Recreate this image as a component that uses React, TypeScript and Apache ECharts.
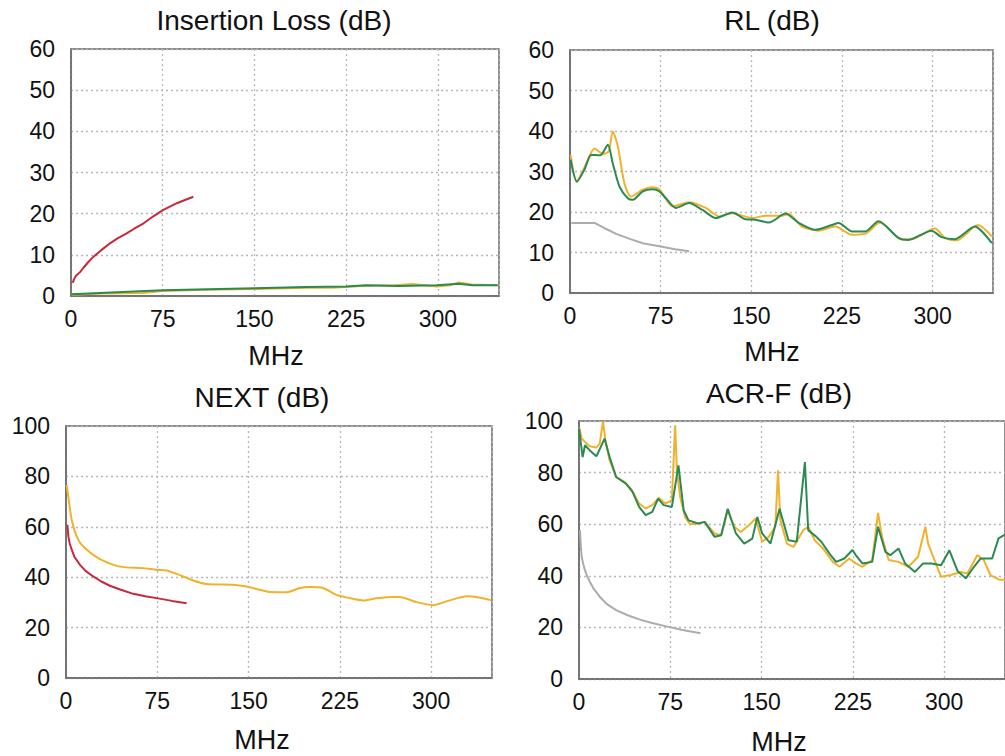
import React, { useEffect, useRef } from "react";
import * as echarts from "echarts";

// ---- titles ----
const panelTitles = ["Insertion Loss (dB)", "RL (dB)", "NEXT (dB)", "ACR-F (dB)"];
const xAxisName = "MHz";

// ---- Insertion Loss ----
const ilLimit: number[][] = [
  [1.4, 3.2], [2.5, 4.1], [4, 4.9], [7.4, 5.8], [10, 6.8], [14, 8.2], [18.2, 9.5], [25, 11.2],
  [31.9, 12.8], [38, 14.0], [45.5, 15.2], [52, 16.4], [59.1, 17.6], [67, 19.3], [75.5, 20.9],
  [87, 22.6], [100, 24.1],
];
const ilYellow: number[][] = [
  [0.5, 0.3], [25, 0.6], [59, 0.7], [75, 1.2], [110, 1.5], [150, 1.7], [195, 2.0], [214, 2.0],
  [241, 2.5], [265, 2.6], [279, 2.9], [299, 2.3], [310, 2.6], [317, 3.3], [328, 2.8], [349, 2.6],
];
const ilGreen: number[][] = [
  [0.5, 0.4], [23.6, 0.7], [75, 1.4], [150, 1.9], [192, 2.2], [225, 2.3], [241, 2.6],
  [268, 2.4], [299, 2.6], [317, 3.0], [328, 2.6], [349, 2.6],
];

// ---- Return Loss ----
const rlLimit: number[][] = [
  [1.1, 17.3], [20.3, 17.3], [25, 16.6], [30, 15.8], [38.2, 14.6], [50, 13.3], [60.2, 12.3],
  [75, 11.5], [87, 10.8], [98.6, 10.3],
];
const rlYellow: number[][] = [
  [0.5, 34.1], [5.5, 27.5], [12, 31], [20.3, 35.7], [27.2, 34.3], [32, 35], [35.4, 39.9],
  [39.6, 36.2], [45, 27.1], [50.5, 23.8], [60.2, 25.5], [67, 26.1], [73.9, 25.6], [84.9, 21.4],
  [98.6, 22.4], [112.4, 21], [123.4, 18.9], [134.3, 19.7], [150.8, 18.5], [161.8, 19.1],
  [175.5, 19.1], [181, 19.5], [192, 16.4], [205.8, 15.4], [219.5, 16.4], [233.2, 14.4],
  [244.2, 14.6], [256.6, 17.4], [274.5, 13.3], [282.7, 13.3], [301.9, 15.9], [310.2, 13.6],
  [319.8, 13], [337.6, 16.8], [349, 14],
];
const rlGreen: number[][] = [
  [0.5, 32.9], [5.8, 27.5], [12, 30.5], [17.6, 34.1], [25, 34], [31.3, 36.6], [35.4, 32],
  [40.9, 26.3], [47.8, 23.4], [51.9, 23.0], [60.2, 25.1], [68.4, 25.6], [73.9, 25.1],
  [79.4, 23.4], [87.6, 21.0], [98.6, 22.2], [109.6, 20.5], [120.6, 18.5], [134.3, 19.9],
  [145.3, 18.2], [153.6, 18.1], [164.6, 17.4], [178.3, 19.6], [189.3, 17.3], [203, 15.6],
  [216.8, 16.8], [222.3, 17.3], [233.2, 15.2], [244.2, 15.2], [255.2, 17.7], [271.7, 13.6],
  [279.9, 13.1], [299.2, 15.4], [307.4, 13.8], [318.4, 13.3], [334.9, 16.4], [349, 12.3],
];

// ---- NEXT ----
const nextLimit: number[][] = [
  [1.1, 60.8], [2, 56], [3, 53.5], [4.7, 50.9], [7, 48], [11.5, 44.9], [16, 42.5], [22.4, 40.3],
  [29, 38.3], [36.1, 36.6], [45, 35], [55.3, 33.4], [65, 32.4], [74.5, 31.7], [87, 30.6],
  [99.1, 29.7],
];
const nextYellow: number[][] = [
  [0.5, 76.6], [1.9, 72], [4.7, 62.7], [10.1, 54.8], [17, 50.9], [27.9, 47.2], [41.6, 44.5],
  [49.8, 43.9], [63.5, 43.6], [74.5, 42.9], [82.7, 42.7], [90.9, 41.3], [104.6, 38.7],
  [115.5, 37.3], [137.4, 37], [148.4, 36.3], [159.3, 35], [167.5, 34.1], [181.2, 34],
  [192.2, 35.7], [200.4, 36.1], [211.3, 35.7], [222.3, 33], [233.2, 31.7], [244.2, 30.8],
  [255.1, 31.6], [268.8, 32.1], [274.3, 32.1], [288, 30.1], [301.7, 28.9], [312.6, 30.4],
  [329.1, 32.4], [337.3, 32.1], [349.6, 30.8],
];

// ---- ACR-F ----
const acrfLimit: number[][] = [
  [0.8, 57.7], [1.5, 51.5], [2.2, 47.4], [3.5, 44.5], [4.9, 42.2], [6.5, 40], [8.9, 37.7],
  [12, 35], [17, 31.9], [23, 29], [30.5, 26.7], [40, 24.7], [49.4, 23.1], [60, 21.7],
  [71, 20.5], [85, 19], [99.8, 17.7],
];
const acrfYellow: number[][] = [
  [0.3, 97.4], [2.2, 93.2], [4.9, 91.9], [8.9, 90.2], [14.3, 89.7], [17, 91.2], [19.7, 99.8],
  [21.9, 91.9], [25.1, 84.8], [30.5, 78.3], [37.2, 76.4], [42.6, 73.8], [49.4, 68],
  [54.8, 66.1], [60.2, 67.4], [65.6, 70.3], [71, 68], [76.3, 69.3], [79, 98.3], [80.4, 80.9],
  [83.1, 70.6], [87.1, 62.8], [91.2, 60], [97.9, 60.3], [103.3, 60.9], [111.4, 56.4],
  [116.8, 55.7], [122.2, 65.4], [127.6, 59], [133, 57], [141.1, 60.3], [145.1, 62.2],
  [150.5, 53.2], [155.9, 55.1], [161.3, 59], [163.5, 80.9], [165.4, 61.5], [170.8, 52.5],
  [176.2, 51.2], [184.2, 57.7], [188.3, 59], [193.7, 53.8], [200.4, 50.6], [208.5, 45.4],
  [213.9, 43.5], [222, 46.7], [227.4, 44.8], [232.8, 43.5], [240.9, 46.1], [245.7, 64.4],
  [249, 55.1], [254.4, 46.1], [262.5, 45.4], [270.6, 43.5], [278.6, 47.4], [284.6, 59],
  [286.8, 52.5], [292.1, 46.1], [297.5, 39.6], [305.6, 40.3], [313.7, 41.5], [319.1, 40.9],
  [327.2, 48], [332.6, 46.1], [338, 40.3], [344.7, 38.6], [350, 38.4],
];
const acrfGreen: number[][] = [
  [0, 97], [3, 86], [4.9, 90.6], [8.9, 88.6], [14.3, 86.3], [21, 93.2], [25.1, 86.1],
  [30.5, 78.3], [38.6, 75.7], [44, 72.5], [49.4, 66.7], [54.8, 63.5], [60.2, 64.8],
  [65, 69.9], [69.6, 67.4], [76.3, 66.7], [81.7, 82.8], [86, 65.4], [90, 61.5], [97.9, 60.3],
  [103.3, 60.9], [111.4, 55.1], [116.8, 55.7], [122.2, 66], [128.9, 56.4], [135.7, 52.5],
  [142.4, 54.4], [146.5, 62.8], [150.5, 56.4], [157.3, 52.5], [164.8, 66], [172.1, 53.8],
  [178.9, 53.2], [185.6, 84.1], [188.3, 57.7], [195, 55.1], [199.1, 53.2], [205.8, 48.6],
  [211.2, 45.4], [218, 46.7], [224.7, 50], [227.4, 48], [232.8, 44.8], [240.9, 45.4],
  [245.7, 59], [251.7, 49.3], [255.7, 48], [262.5, 50.6], [267.9, 44.8], [276, 41.5],
  [282.7, 44.8], [289.5, 44.8], [297.5, 44.1], [304.3, 49.9], [311, 41.9], [317.8, 39],
  [324.5, 43.5], [329.9, 46.7], [339.4, 46.7], [344.7, 54.5], [350, 56],
];

const RED = "#c8283a";
const YELLOW = "#f0b22c";
const GREEN = "#2b8a52";
const GREY = "#acacac";
const FONT = "'Liberation Sans', Arial, sans-serif";

const grids = [
  { left: 71, top: 49, width: 428, height: 247 },
  { left: 570, top: 50, width: 423, height: 243 },
  { left: 66, top: 426, width: 426, height: 252 },
  { left: 579, top: 421, width: 434, height: 258 },
];
const yMax = [60, 60, 100, 100];
const yStep = [10, 10, 20, 20];
const titlePos = [
  [274, 20], [772, 20], [262, 397], [779, 393],
];
const namePos = [
  [276, 356], [772, 352], [262, 740], [779, 742],
];

export default function App() {
  const ref = useRef<HTMLDivElement>(null);
  useEffect(() => {
    if (!ref.current) return;
    const chart = echarts.init(ref.current, undefined, { renderer: "svg" });
    const dotted = { color: "#b8b8b8", width: 1.3, type: [2, 3] as any };
    const xAxis = grids.map((_, i) => ({
      type: "value",
      gridIndex: i,
      min: 0,
      max: 350,
      interval: 75,
      axisLine: { show: true, lineStyle: { color: "#6a6a6a", width: 1.5 } },
      axisTick: { show: false },
      axisLabel: { color: "#111", fontSize: 23, fontFamily: FONT, margin: 11, showMaxLabel: false },
      splitLine: { show: true, lineStyle: dotted },
    }));
    const yAxis = grids.map((_, i) => ({
      type: "value",
      gridIndex: i,
      min: 0,
      max: yMax[i],
      interval: yStep[i],
      axisLine: { show: true, lineStyle: { color: "#6a6a6a", width: 1.5 } },
      axisTick: { show: false },
      axisLabel: { color: "#111", fontSize: 23, fontFamily: FONT, margin: 16 },
      splitLine: { show: true, lineStyle: dotted },
    }));
    const line = (data: number[][], color: string, gi: number, smooth: boolean | number, z = 2) => ({
      type: "line",
      xAxisIndex: gi,
      yAxisIndex: gi,
      data,
      showSymbol: false,
      symbol: "none",
      smooth,
      lineStyle: { color, width: 2 },
      z,
      silent: true,
    });
    const graphic: any[] = [];
    panelTitles.forEach((t, i) => {
      graphic.push({
        type: "text",
        x: titlePos[i][0],
        y: titlePos[i][1],
        style: { text: t, fill: "#111", font: `28px ${FONT}`, align: "center", verticalAlign: "middle" },
      });
      graphic.push({
        type: "text",
        x: namePos[i][0],
        y: namePos[i][1],
        style: { text: xAxisName, fill: "#111", font: `27px ${FONT}`, align: "center", verticalAlign: "middle" },
      });
    });
    chart.setOption({
      animation: false,
      backgroundColor: "#fff",
      grid: grids.map((g) => ({ ...g, show: true, borderColor: "#6a6a6a", borderWidth: 1.5, backgroundColor: "transparent" })),
      xAxis,
      yAxis,
      series: [
        line(ilYellow, YELLOW, 0, false),
        line(ilGreen, GREEN, 0, false),
        line(ilLimit, RED, 0, false),
        line(rlLimit, GREY, 1, false),
        line(rlYellow, YELLOW, 1, 0.25),
        line(rlGreen, GREEN, 1, 0.25),
        line(nextLimit, RED, 2, false),
        line(nextYellow, YELLOW, 2, 0.2),
        line(acrfLimit, GREY, 3, false),
        line(acrfYellow, YELLOW, 3, false),
        line(acrfGreen, GREEN, 3, false),
      ],
      graphic,
    });
    return () => chart.dispose();
  }, []);
  return (
    <div
      ref={ref}
      style={{ position: "absolute", left: 0, top: 0, width: 1005, height: 756, overflow: "hidden", background: "#fff" }}
    />
  );
}
